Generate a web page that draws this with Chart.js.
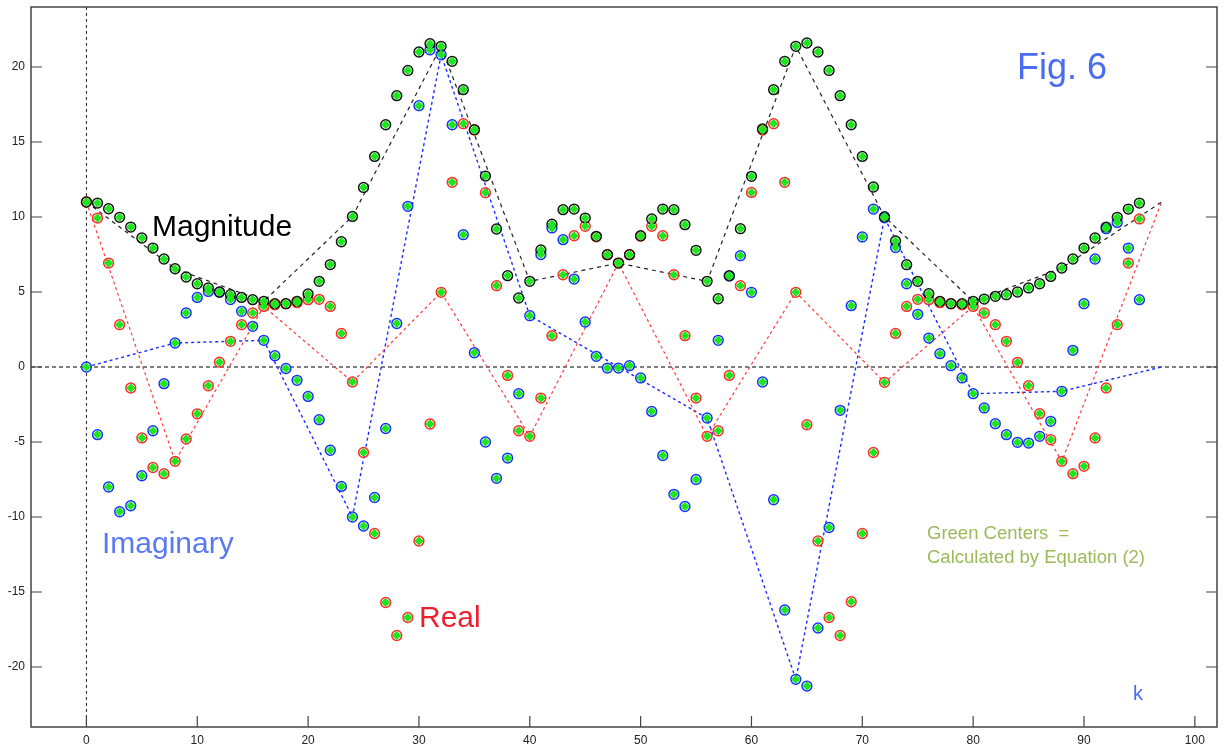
<!DOCTYPE html>
<html>
<head>
<meta charset="utf-8">
<script src="https://cdn.jsdelivr.net/npm/chart.js@4.4.0/dist/chart.umd.min.js"></script>
<style>
  html, body { margin: 0; padding: 0; background: #fff; }
</style>
</head>
<body>
<canvas id="fig6" width="1225" height="746"></canvas>
<script>
// sample index k (96-point DFT)
const kValues = [0, 1, 2, 3, 4, 5, 6, 7, 8, 9, 10, 11, 12, 13, 14, 15, 16, 17, 18, 19,
  20, 21, 22, 23, 24, 25, 26, 27, 28, 29, 30, 31, 32, 33, 34, 35, 36, 37, 38, 39,
  40, 41, 42, 43, 44, 45, 46, 47, 48, 49, 50, 51, 52, 53, 54, 55, 56, 57, 58, 59,
  60, 61, 62, 63, 64, 65, 66, 67, 68, 69, 70, 71, 72, 73, 74, 75, 76, 77, 78, 79,
  80, 81, 82, 83, 84, 85, 86, 87, 88, 89, 90, 91, 92, 93, 94, 95];

const magnitude = [11.0, 10.93, 10.55, 9.98, 9.33, 8.6, 7.93, 7.2, 6.55, 6.0,
  5.55, 5.27, 5.0, 4.82, 4.64, 4.49, 4.38, 4.22, 4.22, 4.38,
  4.87, 5.71, 6.83, 8.35, 10.04, 11.97, 14.04, 16.15, 18.09, 19.77,
  21.0, 21.55, 21.38, 20.38, 18.49, 15.82, 12.73, 9.2, 6.09, 4.6,
  5.71, 7.8, 9.52, 10.49, 10.53, 9.93, 8.71, 7.49, 6.93, 7.49,
  8.75, 9.87, 10.53, 10.49, 9.49, 7.78, 5.71, 4.55, 6.09, 9.22,
  12.71, 15.87, 18.49, 20.38, 21.38, 21.6, 21.0, 19.77, 18.09, 16.15,
  14.04, 12.0, 10.02, 8.4, 6.82, 5.71, 4.89, 4.38, 4.22, 4.22,
  4.38, 4.53, 4.71, 4.82, 5.0, 5.27, 5.55, 6.04, 6.6, 7.2,
  7.93, 8.6, 9.33, 9.98, 10.53, 10.93];

const realPart = [11.0, 9.93, 6.93, 2.82, -1.4, -4.73, -6.7, -7.11, -6.29, -4.8,
  -3.12, -1.25, 0.32, 1.71, 2.82, 3.6, 4.04, 4.15, 4.22, 4.29,
  4.49, 4.51, 4.04, 2.24, -1.0, -5.7, -11.1, -15.7, -17.9, -16.7,
  -11.6, -3.8, 4.98, 12.31, 16.22, 15.8, 11.62, 5.42, -0.56, -4.25,
  -4.62, -2.07, 2.09, 6.15, 8.75, 9.38, 8.68, 7.49, 6.93, 7.49,
  8.72, 9.38, 8.75, 6.15, 2.09, -2.07, -4.62, -4.25, -0.56, 5.42,
  11.64, 15.8, 16.22, 12.31, 4.98, -3.85, -11.6, -16.7, -17.9, -15.65,
  -11.1, -5.7, -1.02, 2.24, 4.04, 4.51, 4.49, 4.29, 4.22, 4.15,
  4.04, 3.6, 2.82, 1.71, 0.31, -1.25, -3.11, -4.85, -6.29, -7.11,
  -6.62, -4.73, -1.4, 2.82, 6.93, 9.87];

const imagPart = [0, -4.51, -8.0, -9.65, -9.25, -7.25, -4.25, -1.11, 1.6, 3.6,
  4.64, 5.04, 4.99, 4.5, 3.71, 2.71, 1.78, 0.75, -0.1, -0.89,
  -1.96, -3.51, -5.55, -7.96, -10.0, -10.6, -8.7, -4.1, 2.9, 10.71,
  17.42, 21.15, 20.82, 16.15, 8.82, 0.95, -5.0, -7.42, -6.07, -1.78,
  3.42, 7.5, 9.27, 8.49, 5.86, 3.0, 0.71, -0.07, -0.07, 0.09,
  -0.73, -2.96, -5.9, -8.49, -9.3, -7.5, -3.4, 1.78, 6.06, 7.42,
  4.98, -1.0, -8.85, -16.2, -20.82, -21.27, -17.4, -10.7, -2.89, 4.09,
  8.67, 10.53, 9.95, 7.96, 5.55, 3.51, 1.93, 0.89, 0.09, -0.73,
  -1.78, -2.73, -3.78, -4.51, -5.02, -5.07, -4.62, -3.62, -1.62, 1.11,
  4.22, 7.2, 9.22, 9.64, 7.93, 4.49];

// 12-point DFT samples joined by the dashed lines
const lineK = [0, 8, 16, 24, 32, 40, 48, 56, 64, 72, 80, 88, 97];
const magLine = [11.0, 6.55, 4.38, 10.04, 21.38, 5.71, 6.93, 5.71, 21.38, 10.02, 4.38, 6.6, 11.0];
const realLine = [11.0, -6.29, 4.04, -1.0, 4.98, -4.62, 6.93, -4.62, 4.98, -1.02, 4.04, -6.29, 11.0];
const imagLine = [0, 1.6, 1.78, -10.0, 20.82, 3.42, 0, -3.4, -20.82, 9.95, -1.78, -1.62, 0];

const xTicks = [0, 10, 20, 30, 40, 50, 60, 70, 80, 90, 100];
const yTicks = [-20, -15, -10, -5, 0, 5, 10, 15, 20];

const GREEN = '#1fe51f';

function pts(xs, ys) {
  return ys.map((y, i) => ({ x: xs[i], y: y }));
}

function dashed(label, ys, color, dash, width) {
  return {
    label: label, data: pts(lineK, ys), showLine: true,
    borderColor: color, borderWidth: width, borderDash: dash,
    pointRadius: 0, fill: false, order: 5
  };
}

function rings(label, ys, color) {
  return {
    label: label, data: pts(kValues, ys),
    pointStyle: 'circle', pointRadius: 4.9, borderColor: color,
    pointBorderWidth: 1.5, backgroundColor: 'rgba(0,0,0,0)', order: 3
  };
}

function centers(label, ys) {
  return {
    label: label, data: pts(kValues, ys),
    pointStyle: 'rectRot', pointRadius: 4.1, borderColor: GREEN,
    pointBorderWidth: 1, backgroundColor: GREEN, order: 1
  };
}

// zero lines, outer box, inward ticks and the labels on the plot
const decor = {
  id: 'decor',
  beforeDatasetsDraw(chart) {
    const { ctx, chartArea: a, scales: { x, y } } = chart;
    ctx.save();
    ctx.lineWidth = 1.5;
    ctx.strokeStyle = '#555';
    ctx.setLineDash([4, 3]);
    ctx.beginPath();
    ctx.moveTo(a.left, y.getPixelForValue(0));
    ctx.lineTo(a.right, y.getPixelForValue(0));
    ctx.stroke();
    ctx.lineWidth = 1;
    ctx.strokeStyle = '#222';
    ctx.setLineDash([3, 3]);
    ctx.beginPath();
    ctx.moveTo(x.getPixelForValue(0), a.top);
    ctx.lineTo(x.getPixelForValue(0), a.bottom);
    ctx.stroke();
    ctx.restore();
  },
  afterDraw(chart) {
    const { ctx, chartArea: a, scales: { x, y } } = chart;
    ctx.save();
    ctx.strokeStyle = '#444';
    ctx.lineWidth = 1.5;
    ctx.strokeRect(a.left, a.top, a.right - a.left, a.bottom - a.top);
    ctx.lineWidth = 1.2;
    ctx.beginPath();
    yTicks.forEach(v => {
      const py = y.getPixelForValue(v);
      ctx.moveTo(a.left, py); ctx.lineTo(a.left + 11, py);
      ctx.moveTo(a.right, py); ctx.lineTo(a.right - 11, py);
    });
    xTicks.forEach(v => {
      const px = x.getPixelForValue(v);
      ctx.moveTo(px, a.bottom); ctx.lineTo(px, a.bottom - 11);
    });
    ctx.stroke();

    ctx.textBaseline = 'alphabetic';
    ctx.textAlign = 'left';
    ctx.font = '30px "Liberation Sans", Arial, sans-serif';
    ctx.fillStyle = '#000';
    ctx.fillText('Magnitude', 152, 236);
    ctx.fillStyle = '#5a78f2';
    ctx.fillText('Imaginary', 102, 553);
    ctx.fillStyle = '#ee2030';
    ctx.fillText('Real', 419, 627);
    ctx.font = '36px "Liberation Sans", Arial, sans-serif';
    ctx.fillStyle = '#4a6cf0';
    ctx.fillText('Fig. 6', 1017, 79);
    ctx.font = '20px "Liberation Sans", Arial, sans-serif';
    ctx.fillText('k', 1133, 700);
    ctx.font = '18.5px "Liberation Sans", Arial, sans-serif';
    ctx.fillStyle = '#9cba5a';
    ctx.fillText('Green Centers  =', 927, 539);
    ctx.fillText('Calculated by Equation (2)', 927, 563);
    ctx.restore();
  }
};

const chart = new Chart(document.getElementById('fig6').getContext('2d'), {
  type: 'scatter',
  data: {
    datasets: [
      centers('magnitude centre', magnitude),
      centers('real centre', realPart),
      centers('imag centre', imagPart),
      rings('Magnitude', magnitude, '#111'),
      rings('Real', realPart, '#ff2a2a'),
      rings('Imaginary', imagPart, '#1530ff'),
      dashed('Magnitude line', magLine, '#222', [4, 4], 1.2),
      dashed('Real line', realLine, '#ff3b3b', [3, 3], 1.2),
      dashed('Imaginary line', imagLine, '#1a2cff', [3, 3], 1.4)
    ]
  },
  options: {
    responsive: false,
    animation: false,
    layout: { padding: { top: 7, right: 8, left: 0, bottom: 0 } },
    plugins: {
      legend: { display: false },
      tooltip: { enabled: false }
    },
    scales: {
      x: {
        type: 'linear', min: -5, max: 102,
        grid: { display: false, drawTicks: false },
        border: { display: false },
        ticks: {
          stepSize: 10, includeBounds: false, padding: 6,
          color: '#222', font: { family: '"Liberation Sans", Arial, sans-serif', size: 12 }
        },
        afterFit(scale) {
          scale.height = 19;
          scale.paddingLeft = 0; scale.paddingRight = 0;
        }
      },
      y: {
        type: 'linear', min: -24, max: 24,
        grid: { display: false, drawTicks: false },
        border: { display: false },
        ticks: {
          stepSize: 5, includeBounds: false, padding: 6,
          color: '#222', font: { family: '"Liberation Sans", Arial, sans-serif', size: 12 }
        },
        afterFit(scale) {
          scale.width = 31;
          scale.paddingTop = 0; scale.paddingBottom = 0;
        }
      }
    }
  },
  plugins: [decor]
});
</script>
</body>
</html>
